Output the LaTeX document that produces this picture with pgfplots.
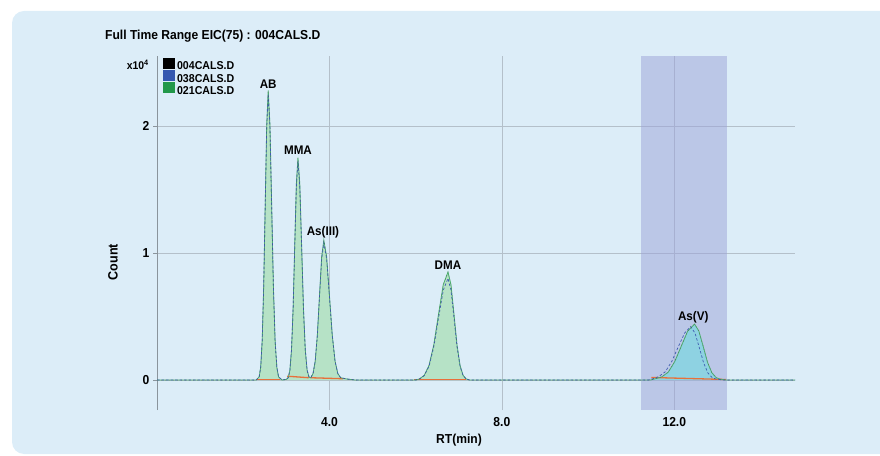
\documentclass[border=0pt]{standalone}
\usepackage{pgfplots}
\usepackage{pgfplotstable}
\pgfplotsset{compat=1.18}
\usepackage{fontspec}
\setmainfont{Liberation Sans}[FakeStretch=0.93]

\definecolor{bgblue}{HTML}{DCEDF8}
\definecolor{boxblue}{HTML}{9CA2D8}
\definecolor{gridgray}{HTML}{B4C0CA}
\definecolor{spine}{HTML}{8A949C}
\definecolor{peakfill}{HTML}{B6E2C6}
\definecolor{cyanfill}{HTML}{8ED2E2}
\definecolor{trgreen}{HTML}{4CAE6E}
\definecolor{trblue}{HTML}{3F5DB0}
\definecolor{intorange}{HTML}{E8703A}
\definecolor{legblack}{HTML}{000000}
\definecolor{legblue}{HTML}{3558B0}
\definecolor{leggreen}{HTML}{22984A}

% 021CALS.D
\pgfplotstableread{
x y
0.00 0
2.30 0
2.37 0.025
2.405 0.10
2.44 0.31
2.475 0.74
2.51 1.38
2.545 2.01
2.58 2.28
2.62 2.01
2.66 1.38
2.70 0.74
2.74 0.31
2.78 0.10
2.82 0.025
2.90 0
3.00 0.005
3.045 0.019
3.0825 0.077
3.12 0.237
3.1575 0.568
3.195 1.061
3.2325 1.544
3.27 1.75
3.3125 1.544
3.355 1.061
3.3975 0.568
3.44 0.237
3.4825 0.077
3.525 0.025
3.55 0.018
3.57 0.02
3.62 0.052
3.67 0.149
3.72 0.357
3.77 0.667
3.82 0.971
3.87 1.10
3.935 0.971
4.00 0.667
4.065 0.357
4.13 0.149
4.195 0.05
4.26 0.018
4.40 0.008
4.60 0
6.00 0
6.09 0.009
6.20 0.037
6.31 0.115
6.42 0.276
6.53 0.516
6.64 0.750
6.75 0.85
6.82 0.750
6.89 0.516
6.96 0.276
7.03 0.115
7.10 0.037
7.17 0.009
7.25 0
11.45 0
11.56 0.01
11.71 0.025
11.86 0.062
12.01 0.145
12.16 0.265
12.31 0.385
12.47 0.44
12.57 0.385
12.67 0.265
12.77 0.140
12.87 0.058
12.97 0.019
13.07 0.006
13.20 0
14.80 0
}\greentab

% 038CALS.D
\pgfplotstableread{
x y
0.00 0
2.30 0
2.37 0.025
2.405 0.10
2.44 0.30
2.475 0.73
2.51 1.36
2.545 1.98
2.58 2.25
2.62 1.98
2.66 1.36
2.70 0.73
2.74 0.30
2.78 0.10
2.82 0.025
2.90 0
3.00 0.005
3.045 0.019
3.0825 0.076
3.12 0.233
3.1575 0.558
3.195 1.043
3.2325 1.518
3.27 1.72
3.3125 1.518
3.355 1.043
3.3975 0.558
3.44 0.233
3.4825 0.076
3.525 0.025
3.55 0.018
3.57 0.02
3.62 0.051
3.67 0.147
3.72 0.351
3.77 0.655
3.82 0.953
3.87 1.08
3.935 0.953
4.00 0.655
4.065 0.351
4.13 0.147
4.195 0.05
4.26 0.018
4.40 0.008
4.60 0
6.00 0
6.09 0.008
6.20 0.035
6.31 0.108
6.42 0.26
6.53 0.486
6.64 0.706
6.75 0.80
6.82 0.706
6.89 0.486
6.96 0.26
7.03 0.108
7.10 0.035
7.17 0.008
7.25 0
11.40 0
11.50 0.01
11.64 0.027
11.79 0.065
11.94 0.145
12.09 0.26
12.24 0.37
12.38 0.42
12.48 0.37
12.58 0.255
12.68 0.135
12.78 0.055
12.88 0.018
12.98 0.006
13.15 0
14.80 0
}\bluetab

\begin{document}
\begin{tikzpicture}[x=1pt,y=1pt]
% panel background
\fill[bgblue, rounded corners=12pt] (12,1) rectangle (900,444);

\begin{axis}[
    at={(157pt,45pt)}, anchor=south west,
    scale only axis,
    width=638pt, height=354pt,
    xmin=0, xmax=14.8,
    ymin=-0.236, ymax=2.55,
    axis x line*=bottom,
    x axis line style={draw=none},
    axis y line*=left,
    y axis line style={-, spine, line width=0.8pt},
    xtick={4,8,12}, xticklabels={4.0,8.0,12.0},
    ytick={0,1,2}, yticklabels={0,1,2},
    tick align=outside,
    major tick length=4pt,
    ytick style={spine, line width=0.6pt},
    xtick style={draw=none},
    xticklabel style={font=\fontsize{13}{15}\selectfont\bfseries},
    yticklabel style={font=\fontsize{13}{15}\selectfont\bfseries},
    grid=major,
    major grid style={gridgray, line width=0.6pt},
    clip=false,
    legend style={at={(0.0094,0.996)}, anchor=north west, draw=none, fill=none,
        inner sep=0pt, row sep=-2pt,
        font=\fontsize{11.4}{13}\selectfont\bfseries,
        nodes={inner sep=0pt, text height=8.5pt, text depth=2pt},
        /tikz/every odd column/.append style={column sep=2.5pt}},
    legend cell align=left,
    legend image code/.code={\fill[#1] (0pt,-1.2pt) rectangle (11pt,8.8pt);},
]
\addlegendimage{legblack}
\addlegendentry{004CALS.D}
\addlegendimage{legblue}
\addlegendentry{038CALS.D}
\addlegendimage{leggreen}
\addlegendentry{021CALS.D}

% highlighted retention window
\fill[boxblue, opacity=0.5] (axis cs:11.23,-0.236) rectangle (axis cs:13.23,2.55);

% peak areas
\addplot[draw=none, fill=peakfill, forget plot, restrict x to domain=0:10]
    table[x=x, y=y] {\greentab} \closedcycle;
\addplot[draw=none, fill=cyanfill, forget plot, restrict x to domain=10:14.8]
    table[x=x, y=y] {\greentab} \closedcycle;

% integration baselines
\addplot[intorange, line width=1.3pt, forget plot] coordinates {(2.30,0.004) (2.86,0.004)};
\addplot[intorange, line width=1.3pt, forget plot] coordinates {(3.02,0.03) (3.52,0.018)};
\addplot[intorange, line width=1.3pt, forget plot] coordinates {(3.56,0.018) (4.32,0.01)};
\addplot[intorange, line width=1.3pt, forget plot] coordinates {(5.97,0.004) (7.17,0.004)};
\addplot[intorange, line width=1.3pt, forget plot] coordinates {(11.47,0.02) (13.20,0.004)};

% traces
\addplot[trgreen, line width=0.8pt, forget plot] table[x=x, y=y] {\greentab};
\addplot[trblue, line width=0.7pt, dash pattern=on 2.5pt off 2pt, forget plot] table[x=x, y=y] {\bluetab};
\addplot[black!70, line width=0.5pt, dash pattern=on 1pt off 3pt, opacity=0.5, forget plot] table[x=x, y=y] {\greentab};

% peak names
\begin{scope}[every node/.style={font=\fontsize{12.5}{14}\selectfont\bfseries, inner sep=0pt}]
\node at (axis cs:2.58,2.325) {AB};
\node at (axis cs:3.27,1.81) {MMA};
\node at (axis cs:3.85,1.16) {As(III)};
\node at (axis cs:6.75,0.906) {DMA};
\node at (axis cs:12.44,0.496) {As(V)};
\end{scope}
\end{axis}

\node[anchor=west, font=\fontsize{13}{15}\selectfont\bfseries, inner sep=0pt] at (105,419) {Full Time Range EIC(75) : 004CALS.D};
\node[anchor=east, font=\fontsize{11.2}{13}\selectfont\bfseries, inner sep=0pt] at (149,390) {x10\textsuperscript{4}};
\node[rotate=90, font=\fontsize{13.5}{15}\selectfont\bfseries] at (113,193) {Count};
\node[font=\fontsize{13}{15}\selectfont\bfseries] at (459,15) {RT(min)};

\pgfresetboundingbox
\useasboundingbox (0,0) rectangle (880,455);
\end{tikzpicture}
\end{document}
